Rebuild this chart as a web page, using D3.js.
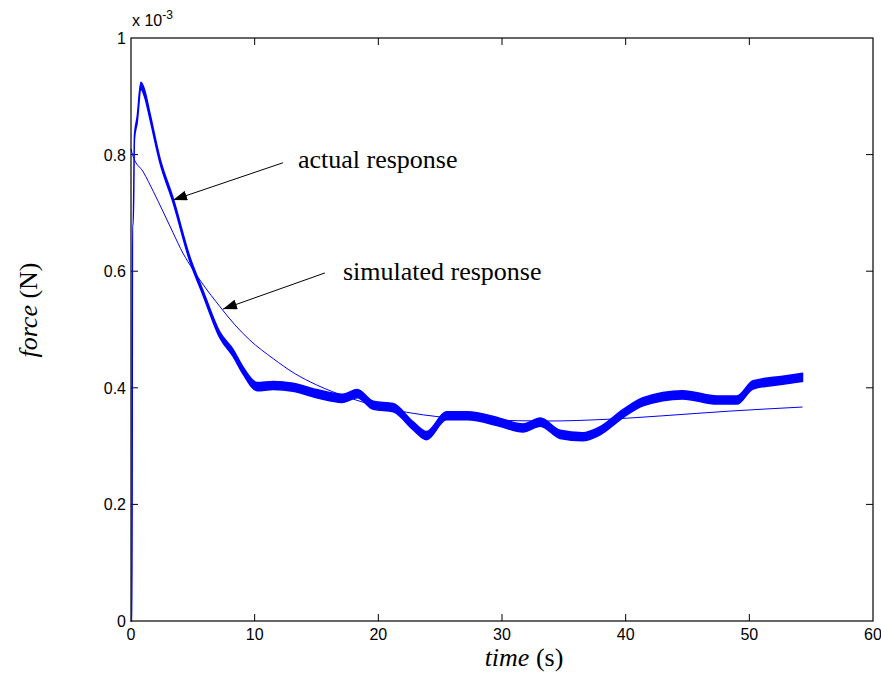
<!DOCTYPE html>
<html>
<head>
<meta charset="utf-8">
<script src="https://cdn.jsdelivr.net/npm/d3@7"></script>
<style>
  body { margin: 0; background: #fff; }
  svg { display: block; }
  .tick-label { font-family: "Liberation Sans", Arial, sans-serif; font-size: 16px; fill: #000; }
  .serif { font-family: "Liberation Serif", "Times New Roman", serif; font-size: 26px; fill: #000; }
</style>
</head>
<body>
<div id="chart"></div>
<script>
// actual response (x 1e-3 N); spread = half width of the noisy band
var actualTime   = [0, 0.08, 0.12, 0.18, 0.28, 0.5, 0.8, 1.1, 1.54, 2.34, 3.4, 4.77, 5.82, 7.2, 8.25, 9.05, 10.2, 11.5, 13.1, 15.0, 17.1, 18.3, 19.6, 21.2, 22.8, 23.9, 25.5, 27.2, 29.8, 31.7, 33.1, 34.7, 36.5, 37.9, 39.8, 41.4, 44.6, 47.4, 49.0, 50.3, 52.7, 54.3];
var actualForce  = [0, 0, 0.68, 0.68, 0.83, 0.86, 0.918, 0.905, 0.865, 0.79, 0.722, 0.62, 0.563, 0.49, 0.46, 0.43, 0.402, 0.404, 0.401, 0.39, 0.382, 0.39, 0.37, 0.366, 0.335, 0.318, 0.352, 0.352, 0.341, 0.331, 0.341, 0.32, 0.316, 0.326, 0.356, 0.376, 0.388, 0.379, 0.379, 0.405, 0.413, 0.418];
var actualSpread = [0, 0, 0, 0, 0.003, 0.005, 0.006, 0.006, 0.005, 0.004, 0.004, 0.004, 0.004, 0.005, 0.006, 0.006, 0.007, 0.007, 0.007, 0.007, 0.007, 0.007, 0.007, 0.007, 0.007, 0.007, 0.007, 0.007, 0.007, 0.007, 0.007, 0.007, 0.007, 0.007, 0.007, 0.007, 0.007, 0.007, 0.007, 0.007, 0.007, 0.007];

// simulated response
var simTime  = [0, 0.15, 1.0, 1.8, 2.6, 3.4, 4.2, 5.0, 5.8, 7.2, 8.4, 9.6, 11.5, 13.2, 15.0, 17.5, 20.0, 22.3, 25.0, 29.0, 33.6, 38.5, 43.0, 48.4, 54.3];
var simForce = [0.81, 0.798, 0.77, 0.737, 0.702, 0.666, 0.631, 0.603, 0.578, 0.539, 0.508, 0.482, 0.45, 0.425, 0.405, 0.384, 0.368, 0.358, 0.350, 0.345, 0.343, 0.346, 0.352, 0.360, 0.367];

var xTicks = [0, 10, 20, 30, 40, 50, 60];
var yTicks = [0, 0.2, 0.4, 0.6, 0.8, 1];
var yTickLabels = ['0', '0.2', '0.4', '0.6', '0.8', '1'];

// annotation text anchors and arrow tips, in data units
var labels = [
  { text: 'actual response',    tx: 13.5,  ty: 0.777, x1: 12.29, y1: 0.786, x2: 3.4,  y2: 0.722 },
  { text: 'simulated response', tx: 17.14, ty: 0.585, x1: 15.68, y1: 0.597, x2: 7.44, y2: 0.535 }
];

var width = 881, height = 676;
var margin = { top: 38, right: 8, bottom: 55, left: 131 };
var innerWidth = width - margin.left - margin.right,
    innerHeight = height - margin.top - margin.bottom;

var svg = d3.select('#chart').append('svg')
  .attr('width', width)
  .attr('height', height);

var defs = svg.append('defs');
defs.append('marker')
  .attr('id', 'arrow')
  .attr('viewBox', '0 0 14 10')
  .attr('refX', 14).attr('refY', 5)
  .attr('markerWidth', 14).attr('markerHeight', 10)
  .attr('markerUnits', 'userSpaceOnUse')
  .attr('orient', 'auto')
  .append('path')
  .attr('d', 'M0,0 L14,5 L0,10 Z')
  .attr('fill', '#000');

var g = svg.append('g')
  .attr('transform', 'translate(' + margin.left + ',' + margin.top + ')');

var x = d3.scaleLinear().domain([0, 60]).range([0, innerWidth]);
var y = d3.scaleLinear().domain([0, 1]).range([innerHeight, 0]);

// ticks inside the box, all four sides
var tickLen = 7;
xTicks.forEach(function(t) {
  if (t === 0 || t === 60) return;
  g.append('line').attr('x1', x(t)).attr('x2', x(t)).attr('y1', innerHeight).attr('y2', innerHeight - tickLen).attr('stroke', '#000');
  g.append('line').attr('x1', x(t)).attr('x2', x(t)).attr('y1', 0).attr('y2', tickLen).attr('stroke', '#000');
});
yTicks.forEach(function(v) {
  if (v === 0 || v === 1) return;
  g.append('line').attr('x1', 0).attr('x2', tickLen).attr('y1', y(v)).attr('y2', y(v)).attr('stroke', '#000');
  g.append('line').attr('x1', innerWidth).attr('x2', innerWidth - tickLen).attr('y1', y(v)).attr('y2', y(v)).attr('stroke', '#000');
});

g.selectAll('.xlab')
  .data(xTicks)
  .enter().append('text')
  .attr('class', 'tick-label')
  .attr('x', function(d) { return x(d); })
  .attr('y', innerHeight + 19)
  .attr('text-anchor', 'middle')
  .text(function(d) { return d; });

g.selectAll('.ylab')
  .data(yTicks)
  .enter().append('text')
  .attr('class', 'tick-label')
  .attr('x', -5)
  .attr('y', function(d) { return y(d) + 6; })
  .attr('text-anchor', 'end')
  .text(function(d, i) { return yTickLabels[i]; });

// exponent label
var expo = g.append('text').attr('class', 'tick-label').attr('x', 1).attr('y', -12);
expo.append('tspan').text('x 10');
expo.append('tspan').attr('dy', -7).style('font-size', '12px').text('-3');

// data
var actual = actualTime.map(function(t, i) { return { t: t, v: actualForce[i], s: actualSpread[i] }; });
var sim = simTime.map(function(t, i) { return { t: t, v: simForce[i] }; });

var band = d3.area()
  .x(function(d) { return x(d.t); })
  .y0(function(d) { return y(d.v - d.s); })
  .y1(function(d) { return y(d.v + d.s); })
  .curve(d3.curveMonotoneX);

g.append('path')
  .datum(actual)
  .attr('d', band)
  .attr('fill', '#0000ff')
  .attr('stroke', '#0000ff')
  .attr('stroke-width', 1.5)
  .attr('stroke-linejoin', 'round');

var line = d3.line()
  .x(function(d) { return x(d.t); })
  .y(function(d) { return y(d.v); })
  .curve(d3.curveMonotoneX);

g.append('path')
  .datum(sim)
  .attr('d', line)
  .attr('fill', 'none')
  .attr('stroke', '#0000ff')
  .attr('stroke-width', 1);

// box
g.append('rect')
  .attr('width', innerWidth)
  .attr('height', innerHeight)
  .attr('fill', 'none')
  .attr('stroke', '#000')
  .attr('stroke-width', 1.2);

// annotations
labels.forEach(function(d) {
  g.append('line')
    .attr('x1', x(d.x1)).attr('y1', y(d.y1))
    .attr('x2', x(d.x2)).attr('y2', y(d.y2))
    .attr('stroke', '#000')
    .attr('stroke-width', 1)
    .attr('marker-end', 'url(#arrow)');
  g.append('text')
    .attr('class', 'serif')
    .attr('x', x(d.tx))
    .attr('y', y(d.ty))
    .text(d.text);
});

// axis titles
var xt = svg.append('text').attr('class', 'serif')
  .attr('x', 524).attr('y', 666).attr('text-anchor', 'middle');
xt.append('tspan').style('font-style', 'italic').text('time');
xt.append('tspan').text(' (s)');

var yt = svg.append('text').attr('class', 'serif')
  .attr('transform', 'translate(37,310) rotate(-90)')
  .attr('text-anchor', 'middle');
yt.append('tspan').style('font-style', 'italic').text('force');
yt.append('tspan').text(' (N)');
</script>
</body>
</html>
